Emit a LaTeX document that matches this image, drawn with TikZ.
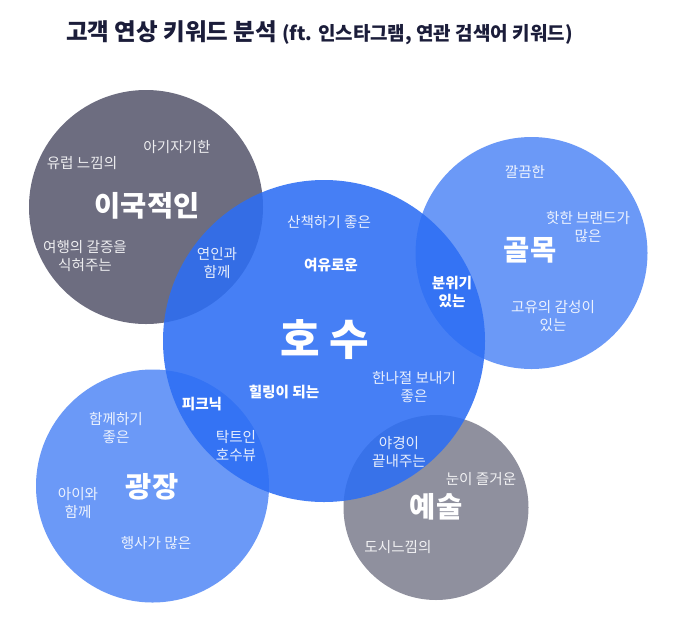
\documentclass[tikz,border=0pt]{standalone}
\usepackage{fontspec}
\setmainfont{Noto Sans CJK KR}
\definecolor{navy}{HTML}{1B1D3A}
\definecolor{darkc}{HTML}{6D6D80}
\definecolor{grayc}{HTML}{8F909E}
\definecolor{bluec}{RGB}{45,110,244}
\tikzset{
  bubble/.style={circle, inner sep=0pt, draw=none},
  lightbubble/.style={bubble, fill=bluec, fill opacity=0.70},
  bigbubble/.style={bubble, fill=bluec, fill opacity=0.88},
  small/.style={text=white, text opacity=0.88, align=center, inner sep=0pt,
    font=\fontsize{14.6}{18}\selectfont},
  smallbold/.style={text=white, align=center, inner sep=0pt,
    font=\fontsize{14.6}{18.5}\selectfont\bfseries},
  hub/.style={text=white, inner sep=0pt, font=\fontsize{28.5}{30}\selectfont\bfseries},
}
\begin{document}
\begin{tikzpicture}[x=1pt,y=-1pt]
\useasboundingbox (0,0) rectangle (677,619);
\fill[white] (0,0) rectangle (677,619);
% title
\node[anchor=west, inner sep=0pt, text=navy, font=\fontsize{23.5}{26}\selectfont\bfseries] (title) at (66,33)
  {고객 연상 키워드 분석 {\fontsize{19}{22}\selectfont (ft. 인스타그램, 연관 검색어 키워드)}};
% circles
\node[bubble, fill=darkc, minimum size=234pt] (exotic) at (146,207) {};
\node[lightbubble, minimum size=233pt] (plaza) at (152.5,486) {};
\node[lightbubble, minimum size=232pt] (alley) at (531.5,253) {};
\node[bubble, fill=grayc, minimum size=185pt] (art) at (436,507.5) {};
\node[bigbubble, minimum size=322pt] (lake) at (324,341) {};
% hub labels
\node[hub] (lexotic) at (147,206) {이국적인};
\node[hub, font=\fontsize{43}{45}\selectfont\bfseries] (llake) at (325,340) {호 수};
\node[hub] (lalley) at (530,250) {골목};
\node[hub] (lplaza) at (152,487) {광장};
\node[hub] (lart) at (436,507) {예술};
% exotic keywords
\node[small] (k1) at (177,147) {아기자기한};
\node[small] (k2) at (82,163) {유럽 느낌의};
\node[small] (k3) at (85,256) {여행의 갈증을\\식혀주는};
\node[small] (k4) at (217,263) {연인과\\함께};
% lake keywords
\node[small] (k5) at (329,222) {산책하기 좋은};
\node[smallbold] (k6) at (331,265) {여유로운};
\node[smallbold] (k7) at (284,392) {힐링이 되는};
\node[small] (k8) at (414,387) {한나절 보내기\\좋은};
\node[smallbold] (k9) at (452,292) {분위기\\있는};
\node[smallbold] (k10) at (202,404) {피크닉};
\node[small] (k11) at (236,446) {탁트인\\호수뷰};
\node[small] (k12) at (399,452) {야경이\\끝내주는};
% alley keywords
\node[small] (k13) at (525,172) {깔끔한};
\node[small] (k14) at (588,227) {핫한 브랜드가\\많은};
\node[small] (k15) at (553,316) {고유의 감성이\\있는};
% plaza keywords
\node[small] (k16) at (116,428) {함께하기\\좋은};
\node[small] (k17) at (78,503) {아이와\\함께};
\node[small] (k18) at (156,543) {행사가 많은};
% art keywords
\node[small] (k19) at (481,479) {눈이 즐거운};
\node[small] (k20) at (398,547) {도시느낌의};
\end{tikzpicture}
\end{document}
